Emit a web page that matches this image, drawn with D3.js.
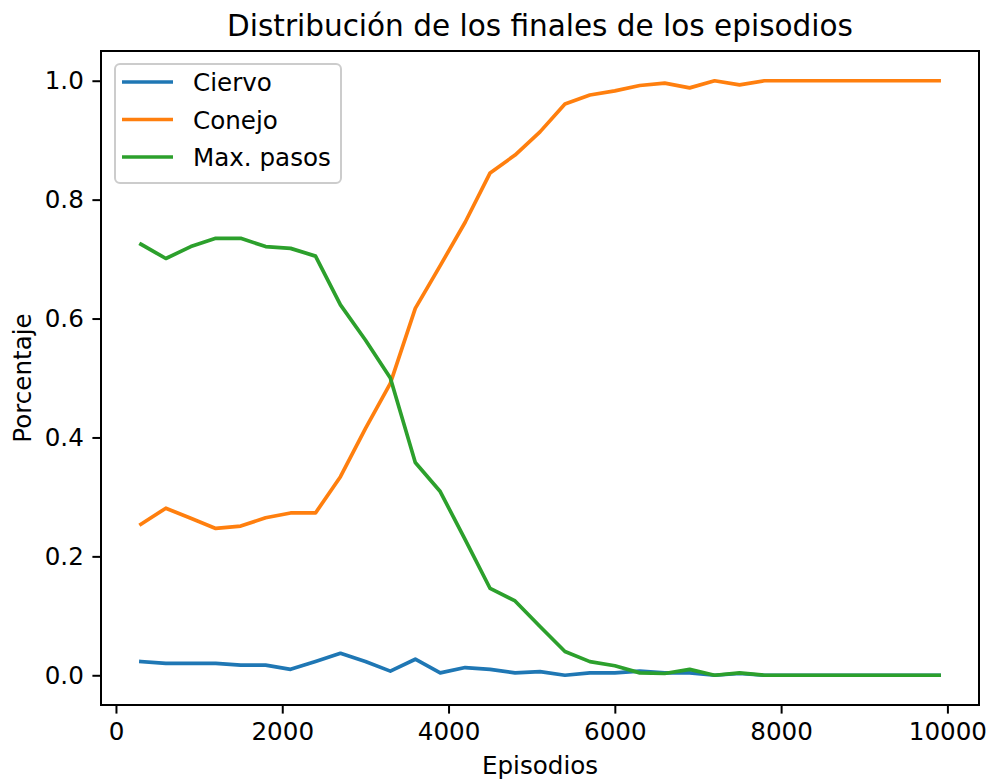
<!DOCTYPE html>
<html>
<head>
<meta charset="utf-8">
<script src="https://cdn.jsdelivr.net/npm/d3@7.9.0/dist/d3.min.js"></script>
<style>
  body { margin: 0; background: #fff; }
  svg { display: block; font-family: "DejaVu Sans", sans-serif; }
</style>
</head>
<body>
<svg id="chart" width="991" height="780"></svg>
<script>
/* ---- data ---- */
const episodes = [300, 600, 900, 1200, 1500, 1800, 2100, 2400, 2700, 3000, 3300,
  3600, 3900, 4200, 4500, 4800, 5100, 5400, 5700, 6000, 6300, 6600, 6900,
  7200, 7500, 7800, 8100, 8400, 8700, 9000, 9300, 9600, 9900];

const ciervo = [0.023, 0.020, 0.020, 0.020, 0.017, 0.017, 0.010, 0.023, 0.037, 0.023, 0.007,
  0.027, 0.004, 0.013, 0.010, 0.004, 0.006, 0.000, 0.004, 0.004, 0.007, 0.004, 0.004,
  0.000, 0.003, 0, 0, 0, 0, 0, 0, 0, 0];

const conejo = [0.254, 0.281, 0.264, 0.247, 0.251, 0.265, 0.273, 0.273, 0.334, 0.415, 0.491,
  0.617, 0.689, 0.762, 0.845, 0.875, 0.914, 0.961, 0.976, 0.983, 0.992, 0.996, 0.988,
  1.000, 0.993, 1, 1, 1, 1, 1, 1, 1, 1];

const maxPasos = [0.725, 0.701, 0.721, 0.735, 0.735, 0.721, 0.718, 0.705, 0.623, 0.564, 0.500,
  0.358, 0.309, 0.228, 0.146, 0.125, 0.082, 0.040, 0.023, 0.016, 0.004, 0.003, 0.010,
  0.000, 0.004, 0, 0, 0, 0, 0, 0, 0, 0];

const seriesNames  = ['Ciervo', 'Conejo', 'Max. pasos'];
const seriesValues = [ciervo, conejo, maxPasos];
const seriesColors = ['#1f77b4', '#ff7f0e', '#2ca02c'];

const xTicks = [0, 2000, 4000, 6000, 8000, 10000];
const yTicks = [0, 0.2, 0.4, 0.6, 0.8, 1.0];

const title  = 'Distribución de los finales de los episodios';
const xLabel = 'Episodios';
const yLabel = 'Porcentaje';

/* ---- layout (matplotlib look, ~177 dpi) ---- */
const plotL = 101, plotR = 979, plotT = 51, plotB = 705;
const fs = 24.6;          // 10pt
const tickLen = 8.6, tickPad = 8.6;

const svg = d3.select('#chart');

// matplotlib default 5% margins
const xExt = d3.extent(episodes), xPad = (xExt[1] - xExt[0]) * 0.05;
const x = d3.scaleLinear().domain([xExt[0] - xPad, xExt[1] + xPad]).range([plotL, plotR]);
const y = d3.scaleLinear().domain([-0.05, 1.05]).range([plotB, plotT]);

/* ---- axes ---- */
const xAxis = svg.append('g')
  .attr('transform', `translate(0,${plotB})`)
  .call(d3.axisBottom(x).tickValues(xTicks).tickFormat(d3.format('d'))
    .tickSize(tickLen).tickPadding(tickPad));

const yAxis = svg.append('g')
  .attr('transform', `translate(${plotL},0)`)
  .call(d3.axisLeft(y).tickValues(yTicks).tickFormat(d3.format('.1f'))
    .tickSize(tickLen).tickPadding(tickPad));

[xAxis, yAxis].forEach(g => {
  g.select('.domain').remove();
  g.selectAll('.tick line').attr('stroke', '#000').attr('stroke-width', 2);
  g.selectAll('.tick text')
    .attr('fill', '#000')
    .style('font-size', fs + 'px')
    .style('font-family', '"DejaVu Sans", sans-serif');
});

/* ---- lines ---- */
const line = d3.line()
  .x((d, i) => x(episodes[i]))
  .y(d => y(d));

svg.append('g')
  .selectAll('path')
  .data(seriesValues)
  .join('path')
    .attr('d', line)
    .attr('fill', 'none')
    .attr('stroke', (_, i) => seriesColors[i])
    .attr('stroke-width', 3.7)
    .attr('stroke-linejoin', 'round')
    .attr('stroke-linecap', 'square');

/* ---- frame ---- */
svg.append('rect')
  .attr('x', plotL).attr('y', plotT)
  .attr('width', plotR - plotL).attr('height', plotB - plotT)
  .attr('fill', 'none').attr('stroke', '#000').attr('stroke-width', 2);

/* ---- titles ---- */
svg.append('text')
  .attr('x', (plotL + plotR) / 2).attr('y', 36)
  .attr('text-anchor', 'middle')
  .style('font-size', '29.5px')
  .text(title);

svg.append('text')
  .attr('x', (plotL + plotR) / 2).attr('y', 774)
  .attr('text-anchor', 'middle')
  .style('font-size', fs + 'px')
  .text(xLabel);

svg.append('text')
  .attr('transform', `translate(31,${(plotT + plotB) / 2}) rotate(-90)`)
  .attr('text-anchor', 'middle')
  .style('font-size', fs + 'px')
  .text(yLabel);

/* ---- legend ---- */
const legend = svg.append('g');
legend.append('rect')
  .attr('x', 115).attr('y', 64)
  .attr('width', 226).attr('height', 119)
  .attr('rx', 5).attr('ry', 5)
  .attr('fill', '#fff').attr('fill-opacity', 0.8)
  .attr('stroke', '#cccccc').attr('stroke-width', 2);

const items = legend.selectAll('g.item')
  .data(seriesNames)
  .join('g')
    .attr('class', 'item')
    .attr('transform', (_, i) => `translate(0,${82 + i * 37.5})`);

items.append('line')
  .attr('x1', 122).attr('x2', 173)
  .attr('stroke', (_, i) => seriesColors[i])
  .attr('stroke-width', 3.7);

items.append('text')
  .attr('x', 193).attr('y', 9.3)
  .style('font-size', fs + 'px')
  .text(d => d);
</script>
</body>
</html>
